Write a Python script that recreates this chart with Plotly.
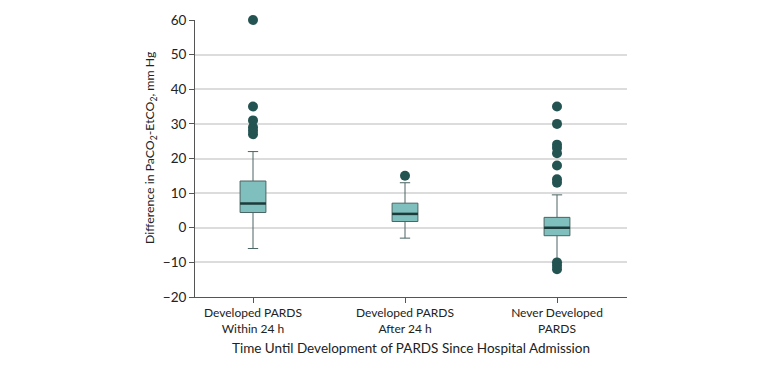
import plotly.graph_objects as go

categories = ["Developed PARDS<br>Within 24 h", "Developed PARDS<br>After 24 h", "Never Developed<br>PARDS"]
q1 = [4.4, 1.8, -2.3]
median = [7.0, 4.0, 0.0]
q3 = [13.5, 7.1, 3.0]
lower_fence = [-6.0, -3.0, -10.0]
upper_fence = [22.0, 13.0, 9.5]
outliers = [
    [27, 28, 29, 31, 35, 60],
    [15],
    [35, 30, 24, 23, 21.5, 18, 14, 13, -10, -11, -12],
]
y_ticks = [-20, -10, 0, 10, 20, 30, 40, 50, 60]

FILL = "#7fbfbe"
EDGE = "#4a6463"
DOT = "#245452"
FONT = "Lato"
BW = 0.17

fig = go.Figure()
xs = list(range(len(categories)))
fig.add_trace(go.Box(
    x=xs, q1=q1, median=median, q3=q3,
    lowerfence=lower_fence, upperfence=upper_fence,
    width=BW, whiskerwidth=0.4,
    fillcolor=FILL, line=dict(color=EDGE, width=1),
    boxpoints=False, showlegend=False, hoverinfo="skip",
))
for i in xs:
    fig.add_trace(go.Scatter(
        x=[i - BW / 2, i + BW / 2], y=[median[i], median[i]],
        mode="lines", line=dict(color="#1d3b3a", width=2.5),
        showlegend=False, hoverinfo="skip",
    ))
for i in xs:
    fig.add_trace(go.Scatter(
        x=[i] * len(outliers[i]), y=outliers[i], mode="markers",
        marker=dict(color=DOT, size=10, line=dict(width=0)),
        cliponaxis=False, showlegend=False, hoverinfo="skip",
    ))

fig.update_layout(
    width=780, height=369,
    margin=dict(l=195, r=153, t=20, b=72),
    plot_bgcolor="white", paper_bgcolor="white",
    font=dict(family=FONT, size=13, color="#222"),
    xaxis=dict(
        range=[-0.3816, 2.4605], tickvals=xs, ticktext=categories,
        showgrid=False, zeroline=False, showline=True, linecolor="#555", linewidth=1,
        ticks="outside", ticklen=5, tickcolor="#555",
        title=dict(text="Time Until Development of PARDS Since Hospital Admission", standoff=8,
                   font=dict(size=13.5)),
        tickfont=dict(size=12),
    ),
    yaxis=dict(
        range=[-20, 60], tickvals=y_ticks,
        showgrid=True, gridcolor="#dcdcdc", gridwidth=1.5, zeroline=False,
        showline=True, linecolor="#555", linewidth=1,
        ticks="outside", ticklen=5, tickcolor="#555",
        tickfont=dict(size=13.5),
    ),
    annotations=[dict(
        text="Difference in PaCO<sub>2</sub>-EtCO<sub>2</sub>, mm Hg",
        textangle=-90, xref="paper", yref="paper", x=-0.103, y=0.54,
        xanchor="center", yanchor="middle", showarrow=False,
        font=dict(size=12.3, family=FONT, color="#222"),
    )],
)

fig.write_html("out.html", config={"displayModeBar": False},
               post_script="document.body.style.margin='0';")
